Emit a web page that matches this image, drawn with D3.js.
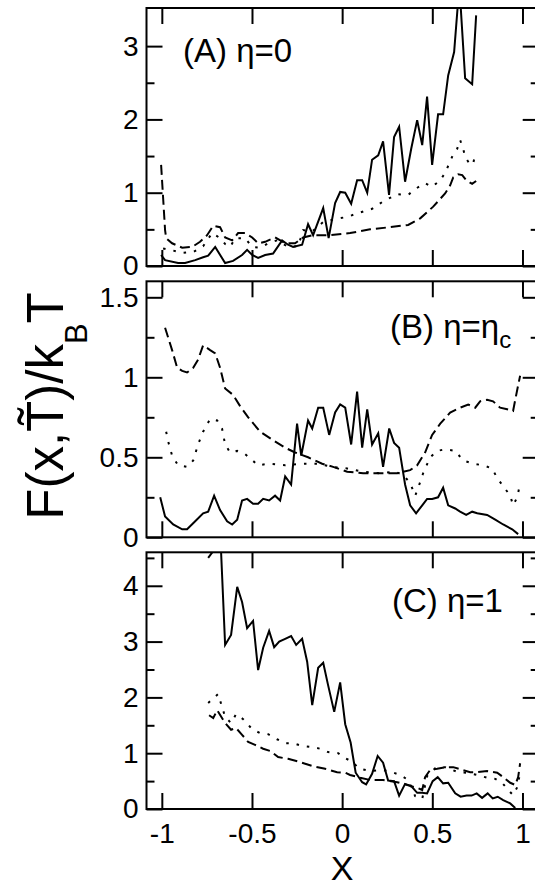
<!DOCTYPE html>
<html>
<head>
<meta charset="utf-8">
<title>Free energy profiles, three panels</title>
<script src="https://d3js.org/d3.v7.min.js"></script>
<style>
    body { margin: 0; background: #fff; }
    svg { display: block; font-family: "Liberation Sans", Arial, sans-serif; }
    .frame { fill: none; stroke: #000; stroke-width: 2; }
    .tick line { stroke: #000; stroke-width: 2; }
    .tick text { fill: #000; }
    .curve { fill: none; stroke: #000; stroke-width: 2; }
</style>
</head>
<body>
<svg id="chart"></svg>
<script>
// x ticks shared by all panels
const xTicks = [-1, -0.5, 0, 0.5, 1];

// panel A: eta = 0
const aSolid = [[-1.004,0.15],[-0.982,0.08],[-0.91,0.04],[-0.871,0.04],[-0.815,0.08],[-0.771,0.12],[-0.743,0.14],[-0.704,0.26],[-0.649,0.04],[-0.605,0.07],[-0.555,0.15],[-0.527,0.22],[-0.499,0.15],[-0.466,0.11],[-0.427,0.15],[-0.383,0.17],[-0.333,0.35],[-0.30,0.29],[-0.272,0.26],[-0.222,0.29],[-0.189,0.57],[-0.161,0.42],[-0.105,0.79],[-0.075,0.38],[-0.039,0.86],[-0.011,1.01],[0.017,1.0],[0.05,0.85],[0.083,1.17],[0.111,1.17],[0.139,1.0],[0.166,1.45],[0.2,1.51],[0.227,1.7],[0.26,0.97],[0.288,1.76],[0.316,1.9],[0.349,1.15],[0.383,1.6],[0.416,1.99],[0.444,1.65],[0.471,2.31],[0.499,1.38],[0.532,2.07],[0.56,2.07],[0.588,2.6],[0.621,2.92],[0.65,3.83],[0.682,2.56],[0.721,2.48],[0.743,3.42]];
const aDashed = [[-1.004,1.38],[-0.982,0.49],[-0.976,0.38],[-0.943,0.31],[-0.887,0.25],[-0.832,0.26],[-0.788,0.33],[-0.749,0.42],[-0.715,0.55],[-0.677,0.53],[-0.649,0.39],[-0.61,0.35],[-0.577,0.45],[-0.538,0.45],[-0.499,0.39],[-0.466,0.31],[-0.427,0.33],[-0.372,0.39],[-0.316,0.31],[-0.261,0.31],[-0.216,0.39],[-0.166,0.42],[-0.094,0.42],[-0.067,0.42],[0.044,0.45],[0.155,0.50],[0.266,0.53],[0.366,0.56],[0.433,0.65],[0.505,0.81],[0.571,0.99],[0.599,1.1],[0.616,1.21],[0.643,1.25],[0.666,1.24],[0.688,1.17],[0.721,1.12],[0.743,1.16]];
const aDotted = [[-0.993,0.24],[-0.954,0.22],[-0.882,0.18],[-0.826,0.19],[-0.771,0.27],[-0.721,0.45],[-0.677,0.38],[-0.649,0.30],[-0.621,0.26],[-0.593,0.38],[-0.538,0.38],[-0.499,0.26],[-0.455,0.25],[-0.41,0.31],[-0.361,0.35],[-0.30,0.26],[-0.244,0.27],[-0.216,0.49],[-0.166,0.47],[-0.105,0.60],[-0.039,0.64],[0.028,0.67],[0.10,0.73],[0.166,0.78],[0.227,0.88],[0.305,0.98],[0.366,0.97],[0.405,1.05],[0.46,1.13],[0.499,1.08],[0.544,1.17],[0.571,1.27],[0.61,1.49],[0.638,1.6],[0.654,1.72],[0.671,1.6],[0.682,1.49],[0.71,1.38],[0.727,1.40],[0.738,1.53]];

// panel B: eta = eta_c
const bSolid = [[-1.009,0.25],[-0.982,0.13],[-0.937,0.08],[-0.887,0.05],[-0.86,0.05],[-0.815,0.10],[-0.771,0.15],[-0.743,0.16],[-0.71,0.26],[-0.677,0.17],[-0.638,0.10],[-0.61,0.08],[-0.582,0.11],[-0.555,0.23],[-0.527,0.24],[-0.494,0.21],[-0.466,0.21],[-0.438,0.24],[-0.405,0.23],[-0.372,0.26],[-0.344,0.23],[-0.316,0.38],[-0.283,0.33],[-0.25,0.71],[-0.227,0.51],[-0.189,0.73],[-0.166,0.68],[-0.133,0.81],[-0.105,0.81],[-0.072,0.64],[-0.039,0.78],[-0.011,0.83],[0.017,0.81],[0.05,0.58],[0.083,0.91],[0.111,0.56],[0.139,0.80],[0.166,0.58],[0.20,0.65],[0.227,0.44],[0.261,0.68],[0.288,0.59],[0.316,0.56],[0.349,0.33],[0.377,0.20],[0.41,0.15],[0.444,0.20],[0.471,0.24],[0.499,0.24],[0.532,0.25],[0.56,0.31],[0.588,0.20],[0.627,0.18],[0.654,0.16],[0.688,0.14],[0.721,0.16],[0.749,0.15],[0.804,0.14],[0.849,0.11],[0.893,0.08],[0.943,0.05],[0.976,0.02]];
const bDashed = [[-0.982,1.31],[-0.943,1.17],[-0.915,1.06],[-0.887,1.04],[-0.86,1.03],[-0.826,1.06],[-0.799,1.11],[-0.771,1.20],[-0.732,1.17],[-0.704,1.15],[-0.677,1.06],[-0.649,0.93],[-0.605,0.89],[-0.566,0.82],[-0.521,0.75],[-0.455,0.66],[-0.388,0.61],[-0.316,0.56],[-0.261,0.53],[-0.189,0.50],[-0.111,0.46],[-0.05,0.44],[0.028,0.41],[0.116,0.40],[0.211,0.40],[0.305,0.40],[0.377,0.42],[0.416,0.45],[0.46,0.53],[0.499,0.64],[0.544,0.71],[0.599,0.78],[0.654,0.81],[0.699,0.83],[0.738,0.81],[0.765,0.85],[0.804,0.86],[0.837,0.85],[0.876,0.81],[0.915,0.80],[0.948,0.79],[0.96,0.86],[0.976,0.95],[0.987,1.01]];
const bDotted = [[-0.976,0.66],[-0.965,0.60],[-0.943,0.51],[-0.91,0.45],[-0.86,0.44],[-0.826,0.48],[-0.799,0.58],[-0.771,0.66],[-0.732,0.74],[-0.693,0.73],[-0.666,0.68],[-0.649,0.58],[-0.621,0.53],[-0.582,0.54],[-0.538,0.52],[-0.466,0.45],[-0.41,0.46],[-0.316,0.45],[-0.222,0.46],[-0.133,0.46],[-0.055,0.44],[0.028,0.43],[0.116,0.41],[0.211,0.40],[0.294,0.41],[0.338,0.39],[0.377,0.34],[0.405,0.26],[0.422,0.31],[0.449,0.40],[0.488,0.50],[0.527,0.54],[0.571,0.55],[0.627,0.54],[0.671,0.48],[0.727,0.46],[0.782,0.45],[0.832,0.43],[0.86,0.37],[0.893,0.32],[0.932,0.26],[0.948,0.20],[0.971,0.25],[0.982,0.31]];

// panel C: eta = 1
const cSolid = [[-0.743,4.5],[-0.674,4.8],[-0.649,2.94],[-0.616,3.12],[-0.582,3.98],[-0.555,3.71],[-0.527,3.24],[-0.494,3.37],[-0.466,2.49],[-0.438,2.89],[-0.405,3.19],[-0.377,2.90],[-0.349,3.0],[-0.316,3.05],[-0.283,3.10],[-0.255,2.94],[-0.222,3.05],[-0.194,2.64],[-0.166,1.86],[-0.133,2.53],[-0.105,2.62],[-0.078,2.22],[-0.044,1.74],[-0.011,2.27],[0.017,1.52],[0.047,1.19],[0.075,0.65],[0.111,0.48],[0.133,0.44],[0.166,0.63],[0.197,0.95],[0.227,0.83],[0.255,0.51],[0.288,0.50],[0.316,0.24],[0.349,0.45],[0.383,0.41],[0.416,0.29],[0.444,0.29],[0.471,0.28],[0.502,0.50],[0.53,0.57],[0.56,0.46],[0.588,0.47],[0.627,0.28],[0.657,0.22],[0.69,0.24],[0.718,0.24],[0.746,0.28],[0.776,0.20],[0.807,0.28],[0.835,0.19],[0.863,0.22],[0.893,0.16],[0.932,0.10],[0.96,0.02]];
const cDashed = [[-0.738,1.68],[-0.715,1.63],[-0.693,1.77],[-0.649,1.54],[-0.616,1.42],[-0.588,1.45],[-0.555,1.33],[-0.521,1.20],[-0.483,1.15],[-0.438,1.08],[-0.399,1.04],[-0.355,0.93],[-0.30,0.90],[-0.233,0.84],[-0.166,0.77],[-0.094,0.72],[-0.028,0.66],[0.017,0.65],[0.044,0.61],[0.10,0.56],[0.155,0.52],[0.227,0.52],[0.305,0.48],[0.361,0.43],[0.416,0.38],[0.444,0.34],[0.46,0.57],[0.488,0.70],[0.527,0.72],[0.571,0.75],[0.616,0.75],[0.666,0.70],[0.71,0.66],[0.749,0.66],[0.804,0.68],[0.86,0.65],[0.893,0.57],[0.932,0.47],[0.96,0.43],[0.976,0.57],[0.987,0.82]];
const cDotted = [[-0.743,1.90],[-0.688,2.06],[-0.666,1.83],[-0.649,1.65],[-0.616,1.54],[-0.588,1.70],[-0.549,1.61],[-0.499,1.43],[-0.455,1.36],[-0.41,1.34],[-0.361,1.25],[-0.316,1.18],[-0.272,1.18],[-0.222,1.13],[-0.166,1.11],[-0.122,1.08],[-0.078,1.02],[-0.022,1.0],[0.017,0.91],[0.061,0.84],[0.089,0.73],[0.155,0.68],[0.227,0.70],[0.277,0.66],[0.322,0.61],[0.366,0.52],[0.405,0.23],[0.444,0.18],[0.471,0.59],[0.516,0.73],[0.571,0.75],[0.643,0.66],[0.693,0.65],[0.749,0.61],[0.804,0.56],[0.849,0.54],[0.887,0.47],[0.921,0.34],[0.948,0.25],[0.971,0.39],[0.982,0.57]];

// y axis ranges and ticks per panel
const yMaxes = [3.52, 1.6, 4.6];
const yMajor = [[0, 1, 2, 3], [0, 0.5, 1, 1.5], [0, 1, 2, 3, 4]];
const yMinor = [[0.5, 1.5, 2.5], [0.25, 0.75, 1.25], [0.5, 1.5, 2.5, 3.5, 4.5]];

const width = 535, height = 888;
const svg = d3.select("#chart").attr("width", width).attr("height", height);

// layout (pixels)
const left = 146.5, right = 538.7;
const panelBox = [[8, 266], [281.3, 537.3], [552.3, 809]];
const majorLen = 16, minorLen = 8;

const x = d3.scaleLinear().domain([-1.085, 1.09]).range([left, right]);
const fmt = d => String(d); // plain hyphen minus like the original

const panels = [
    { series: [aSolid, aDashed, aDotted] },
    { series: [bSolid, bDashed, bDotted] },
    { series: [cSolid, cDashed, cDotted] }
];
const dashes = [null, "10,5", "2.5,8"];

panels.forEach((p, i) => {
    const [top, bottom] = panelBox[i];
    const y = d3.scaleLinear().domain([0, yMaxes[i]]).range([bottom, top]);
    const g = svg.append("g");

    g.append("clipPath").attr("id", "clip" + i)
        .append("rect").attr("x", left).attr("y", top)
        .attr("width", right - left).attr("height", bottom - top);

    const line = d3.line().x(d => x(d[0])).y(d => y(d[1]));
    g.append("g").attr("clip-path", `url(#clip${i})`)
        .selectAll("path").data(p.series).join("path")
        .attr("class", "curve")
        .attr("d", line)
        .attr("stroke-dasharray", (d, k) => dashes[k]);

    // left axis: major with labels, minor without
    g.append("g").attr("transform", `translate(${left},0)`)
        .call(d3.axisLeft(y).tickValues(yMajor[i]).tickSize(-majorLen).tickPadding(8).tickFormat(fmt))
        .call(a => a.select(".domain").remove())
        .selectAll("text").attr("font-size", 28).attr("font-family", "Liberation Sans, Arial, sans-serif");
    g.append("g").attr("transform", `translate(${left},0)`)
        .call(d3.axisLeft(y).tickValues(yMinor[i]).tickSize(-minorLen).tickFormat(""))
        .call(a => a.select(".domain").remove());

    // right axis
    g.append("g").attr("transform", `translate(${right},0)`)
        .call(d3.axisRight(y).tickValues(yMajor[i]).tickSize(-majorLen).tickFormat(""))
        .call(a => a.select(".domain").remove());
    g.append("g").attr("transform", `translate(${right},0)`)
        .call(d3.axisRight(y).tickValues(yMinor[i]).tickSize(-minorLen).tickFormat(""))
        .call(a => a.select(".domain").remove());

    // top / bottom x axes
    g.append("g").attr("transform", `translate(0,${top})`)
        .call(d3.axisTop(x).tickValues(xTicks).tickSize(-majorLen).tickFormat(""))
        .call(a => a.select(".domain").remove());
    const bx = g.append("g").attr("transform", `translate(0,${bottom})`)
        .call(d3.axisBottom(x).tickValues(xTicks).tickSize(-majorLen).tickPadding(14)
            .tickFormat(i === 2 ? fmt : ""))
        .call(a => a.select(".domain").remove());
    bx.selectAll("text").attr("font-size", 28).attr("font-family", "Liberation Sans, Arial, sans-serif");

    g.append("rect").attr("class", "frame")
        .attr("x", left).attr("y", top)
        .attr("width", right - left).attr("height", bottom - top);
});

// panel labels
const labelFont = 33;
svg.append("text").attr("x", 183).attr("y", 62).attr("font-size", labelFont).text("(A) η=0");
const lb = svg.append("text").attr("x", 390).attr("y", 338).attr("font-size", labelFont);
lb.append("tspan").text("(B) η=η");
lb.append("tspan").attr("font-size", 24).attr("dy", 10).text("c");
svg.append("text").attr("x", 392).attr("y", 612).attr("font-size", labelFont).text("(C) η=1");

// axis titles
svg.append("text").attr("x", 342).attr("y", 880).attr("text-anchor", "middle")
    .attr("font-size", 34).text("X");

const yl = svg.append("text")
    .attr("transform", "translate(63,406) rotate(-90)")
    .attr("text-anchor", "middle").attr("font-size", 51);
yl.append("tspan").text("F(x,T\u0303)/k");
yl.append("tspan").attr("font-size", 31).attr("dy", 24).text("B");
yl.append("tspan").attr("dy", -24).text("T");
</script>
</body>
</html>
